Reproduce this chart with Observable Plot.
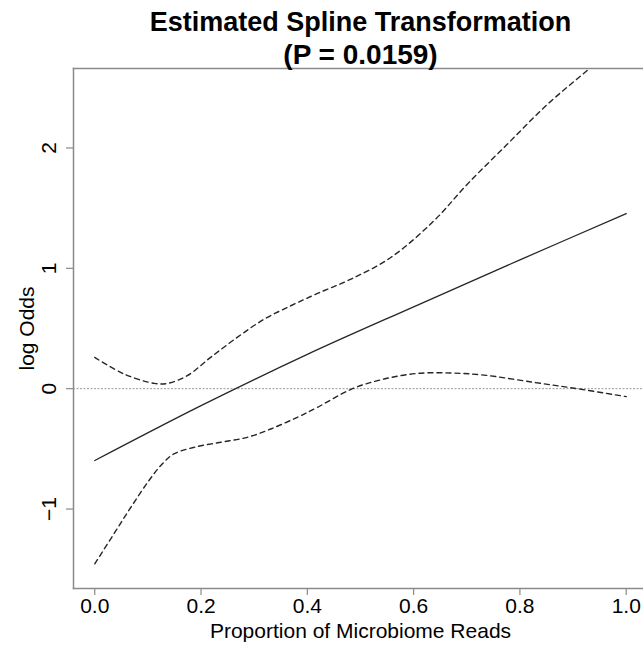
<!DOCTYPE html>
<html>
<head>
<meta charset="utf-8">
<script src="https://cdn.jsdelivr.net/npm/d3@7"></script>
<script src="https://cdn.jsdelivr.net/npm/@observablehq/plot@0.6"></script>
<style>
  html, body { margin: 0; padding: 0; background: #fff; overflow: hidden; }
</style>
</head>
<body>
<div id="chart"></div>
<script>
// Title texts
const titleLine1 = "Estimated Spline Transformation";
const titleLine2 = "(P = 0.0159)";
const xLabel = "Proportion of Microbiome Reads";
const yLabel = "log Odds";

// Tick values
const xTicks = [0, 0.2, 0.4, 0.6, 0.8, 1.0];
const yTicks = [-1, 0, 1, 2];

// Estimated spline (solid line)
const fitX = [0, 0.2, 0.4, 0.6, 0.8, 1.0];
const fitY = [-0.597, -0.141, 0.285, 0.68, 1.07, 1.455];

// Upper confidence band (dashed)
const upperX = [0, 0.055, 0.112, 0.137, 0.174, 0.218, 0.268, 0.319, 0.369, 0.419, 0.482, 0.557, 0.638, 0.701, 0.776, 0.852, 0.927, 1.0];
const upperY = [0.26, 0.122, 0.044, 0.044, 0.108, 0.26, 0.426, 0.578, 0.689, 0.791, 0.91, 1.09, 1.394, 1.699, 2.03, 2.363, 2.645, 2.92];

// Lower confidence band (dashed)
const lowerX = [0, 0.036, 0.068, 0.102, 0.127, 0.149, 0.187, 0.237, 0.287, 0.331, 0.381, 0.419, 0.485, 0.544, 0.607, 0.67, 0.732, 0.827, 0.908, 1.0];
const lowerY = [-1.455, -1.206, -0.985, -0.763, -0.625, -0.542, -0.487, -0.445, -0.404, -0.335, -0.238, -0.155, 0, 0.08, 0.127, 0.13, 0.113, 0.052, 0, -0.066];

const fit = fitX.map((x, i) => ({x, y: fitY[i]}));
const upper = upperX.map((x, i) => ({x, y: upperY[i]}));
const lower = lowerX.map((x, i) => ({x, y: lowerY[i]}));

const axisGray = "#8a8a8a";
const lineColor = "#262626";

const chart = Plot.plot({
  width: 643,
  height: 645,
  marginLeft: 73,
  marginRight: 0,
  marginTop: 68,
  marginBottom: 57,
  style: {fontFamily: "'Liberation Sans', Arial, sans-serif", fontSize: "21px", background: "#fff", color: "#000"},
  x: {domain: [-0.04, 1.0325]},
  y: {domain: [-1.66, 2.66]},
  marks: [
    Plot.ruleY([0], {stroke: "#9a9a9a", strokeWidth: 1, strokeDasharray: "2,1.5"}),
    Plot.line(fit, {x: "x", y: "y", stroke: lineColor, strokeWidth: 1.3, curve: "catmull-rom", clip: true}),
    Plot.line(upper, {x: "x", y: "y", stroke: lineColor, strokeWidth: 1.4, strokeDasharray: "5,4", curve: "catmull-rom", clip: true}),
    Plot.line(lower, {x: "x", y: "y", stroke: lineColor, strokeWidth: 1.4, strokeDasharray: "5,4", curve: "catmull-rom", clip: true}),
    Plot.frame({anchor: "left", stroke: axisGray, strokeWidth: 1.5}),
    Plot.frame({anchor: "top", stroke: axisGray, strokeWidth: 1.5}),
    Plot.frame({anchor: "bottom", stroke: axisGray, strokeWidth: 1.5}),
    Plot.axisX({ticks: xTicks, tickSize: 7, tickPadding: 3, tickFormat: d3.format(".1f"), stroke: axisGray, strokeWidth: 1.2, fill: "#000", label: null}),
    Plot.axisY({ticks: yTicks, tickSize: 7, tickPadding: 11, tickRotate: -90, tickFormat: d => d < 0 ? "\u2212" + Math.abs(d) : String(d), stroke: axisGray, strokeWidth: 1.2, fill: "#000", label: null}),
    Plot.text([xLabel], {x: () => 0.5, frameAnchor: "bottom", dy: 49, lineAnchor: "bottom", fill: "#000"}),
    Plot.text([yLabel], {frameAnchor: "left", textAnchor: "middle", rotate: -90, dx: -40, lineAnchor: "bottom", fill: "#000"}),
    Plot.text([titleLine1], {x: () => 0.5, frameAnchor: "top", dy: -37.5, lineAnchor: "bottom", fontSize: 27, fontWeight: "bold", fill: "#000"}),
    Plot.text([titleLine2], {x: () => 0.5, frameAnchor: "top", dy: -4.5, lineAnchor: "bottom", fontSize: 28, fontWeight: "bold", fill: "#000", letterSpacing: "1.8px"})
  ]
});
document.getElementById("chart").appendChild(chart);
</script>
</body>
</html>
